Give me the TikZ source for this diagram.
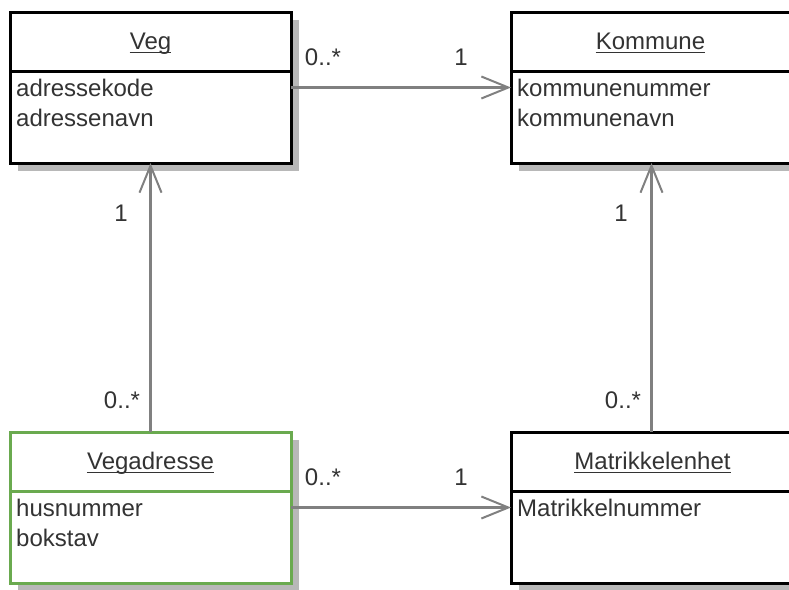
\documentclass[tikz,border=0pt]{standalone}
\usepackage{fontspec}
\setmainfont{Liberation Sans}
\usetikzlibrary{arrows.meta,calc,shadows}
\definecolor{txt}{HTML}{333333}
\definecolor{conn}{HTML}{808080}
\definecolor{shadowc}{HTML}{B8B8B8}
\definecolor{greenb}{HTML}{6AAA4F}
\begin{document}
\begin{tikzpicture}[x=1pt,y=-1pt,
  every node/.style={font=\fontsize{24}{30}\selectfont, text=txt, inner sep=0pt},
  umlbox/.style={draw=black, line width=3pt, fill=white, minimum width=281pt, minimum height=151pt,
    outer sep=0pt, drop shadow={shadow xshift=8pt, shadow yshift=-8pt, fill=shadowc, opacity=1}},
  greenbox/.style={umlbox, draw=greenb},
  divider/.style={line width=3pt},
  title/.style={anchor=base},
  attr/.style={anchor=base west},
  ul/.style={txt, line width=1.3pt},
  conn/.style={draw=conn, line width=2.5pt, -{Straight Barb[length=27pt,width=22pt,line width=2pt]}},
  mult/.style={fill=white, inner sep=1pt}
]
\useasboundingbox (0,0) rectangle (789,589);

% boxes
\node[umlbox] (veg) at (150.5,87.5) {};
\node[umlbox] (kom) at (651.5,87.5) {};
\node[greenbox] (vad) at (150.5,507.5) {};
\node[umlbox] (mat) at (651.5,507.5) {};

% dividers
\draw[divider] ($(veg.north west)+(0,59)$) coordinate (vegdl) -- ($(veg.north east)+(0,59)$) coordinate (vegdr);
\draw[divider] ($(kom.north west)+(0,59)$) coordinate (komdl) -- ($(kom.north east)+(0,59)$) coordinate (komdr);
\draw[divider, draw=greenb] ($(vad.north west)+(0,59)$) coordinate (vaddl) -- ($(vad.north east)+(0,59)$) coordinate (vaddr);
\draw[divider] ($(mat.north west)+(0,59)$) coordinate (matdl) -- ($(mat.north east)+(0,59)$) coordinate (matdr);

% titles
\node[title] (vegT) at ($(veg.north)+(0,37)$) {Veg};
\node[title] (komT) at ($(kom.north)+(-1,37)$) {Kommune};
\node[title] (vadT) at ($(vad.north)+(0,37)$) {Vegadresse};
\node[title] (matT) at ($(mat.north)+(1,37)$) {Matrikkelenhet};
\foreach \t in {vegT,komT,vadT,matT}{
  \draw[ul] ([yshift=-3.5pt]\t.base west) -- ([yshift=-3.5pt]\t.base east);
}

% attributes
\node[attr] (a1) at ($(veg.north west)+(6,84)$) {adressekode};
\node[attr] (a2) at ($(veg.north west)+(6,114)$) {adressenavn};
\node[attr] (k1) at ($(kom.north west)+(6,84)$) {kommunenummer};
\node[attr] (k2) at ($(kom.north west)+(6,114)$) {kommunenavn};
\node[attr] (v1) at ($(vad.north west)+(6,84)$) {husnummer};
\node[attr] (v2) at ($(vad.north west)+(6,114)$) {bokstav};
\node[attr] (m1) at ($(mat.north west)+(6,84)$) {Matrikkelnummer};

% connectors
\draw[conn] (veg) -- (kom);
\draw[conn] (vad) -- (veg);
\draw[conn] (mat) -- (kom);
\draw[conn] (vad) -- (mat);

% multiplicities
\node[mult] (m01) at (323,57) {0..*};
\node[mult] (m02) at (461,57) {1};
\node[mult] (m03) at (121,213) {1};
\node[mult] (m04) at (122,400) {0..*};
\node[mult] (m05) at (621,213) {1};
\node[mult] (m06) at (623,400) {0..*};
\node[mult] (m07) at (323,477) {0..*};
\node[mult] (m08) at (461,477) {1};
\end{tikzpicture}
\end{document}
